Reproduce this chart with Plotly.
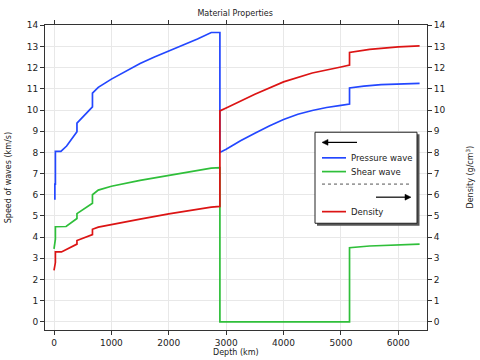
import plotly.graph_objects as go

# ---- data ----
depth_vp = [0, 15, 15, 24, 24, 120, 220, 400, 400, 670, 670, 771, 1000, 1250, 1500, 1750, 2000,
            2250, 2500, 2740, 2891, 2891, 3000, 3250, 3500, 3750, 4000, 4250, 4500, 4750, 5000,
            5150, 5150, 5400, 5700, 6000, 6371]
vp = [5.8, 5.8, 6.5, 6.5, 8.05, 8.05, 8.3, 8.98, 9.38, 10.15, 10.8, 11.07, 11.46, 11.85, 12.2, 12.5, 12.77,
      13.07, 13.35, 13.66, 13.66, 8.0, 8.15, 8.55, 8.9, 9.25, 9.55, 9.8, 9.98, 10.12, 10.22,
      10.28, 11.04, 11.13, 11.2, 11.24, 11.26]

depth_vs = [0, 20, 24, 24, 80, 210, 400, 400, 670, 670, 771, 1000, 1500, 2000, 2500, 2740, 2891,
            2891, 5150, 5150, 5500, 6000, 6371]
vs = [3.44, 3.87, 3.9, 4.49, 4.5, 4.5, 4.88, 5.11, 5.6, 6.0, 6.22, 6.4, 6.68, 6.92, 7.15, 7.26, 7.28,
      0.0, 0.0, 3.5, 3.58, 3.64, 3.67]

depth_rho = [0, 15, 24, 24, 130, 400, 400, 670, 670, 771, 1000, 1500, 2000, 2500, 2740, 2891,
             2891, 3000, 3500, 4000, 4500, 5000, 5150, 5150, 5500, 6000, 6371]
rho = [2.43, 2.6, 2.8, 3.3, 3.3, 3.67, 3.84, 4.12, 4.37, 4.47, 4.58, 4.85, 5.1, 5.32, 5.42, 5.45,
       9.96, 10.1, 10.75, 11.33, 11.75, 12.03, 12.12, 12.72, 12.86, 12.98, 13.03]

x_ticks = [0, 1000, 2000, 3000, 4000, 5000, 6000]
y_ticks = list(range(0, 15))

BLUE = "#2347ff"
GREEN = "#2fbf3a"
RED = "#dc1414"
FONT = "DejaVu Sans"

fig = go.Figure()
fig.add_trace(go.Scatter(x=depth_vp, y=vp, mode="lines", line=dict(color=BLUE, width=1.7),
                         name="Pressure wave", showlegend=False))
fig.add_trace(go.Scatter(x=depth_vs, y=vs, mode="lines", line=dict(color=GREEN, width=1.7),
                         name="Shear wave", showlegend=False))
fig.add_trace(go.Scatter(x=depth_rho, y=rho, mode="lines", line=dict(color=RED, width=1.7),
                         name="Density", showlegend=False, yaxis="y2"))

yr = [-0.385, 14.015]
fig.update_layout(
    width=480, height=360,
    margin=dict(l=45, r=53, t=25, b=25),
    paper_bgcolor="white", plot_bgcolor="white",
    font=dict(family=FONT, size=9, color="#222"),
    title=dict(text="Material Properties", x=0.49, xanchor="center", y=0.962, yanchor="middle",
               font=dict(size=8, color="#222")),
    xaxis=dict(range=[-157, 6500], tickvals=x_ticks, showgrid=True, gridcolor="#e8e8e8",
               gridwidth=1, zeroline=False, showline=True, linecolor="#333", linewidth=1,
               mirror="ticks", ticks="outside", ticklen=4, tickcolor="#333",
               tickfont=dict(size=9)),
    yaxis=dict(range=yr, tickvals=y_ticks, showgrid=True, gridcolor="#e8e8e8", gridwidth=1,
               zeroline=False, showline=True, linecolor="#333", linewidth=1,
               ticks="outside", ticklen=4, tickcolor="#333", tickfont=dict(size=9)),
    yaxis2=dict(range=yr, tickvals=y_ticks, overlaying="y", side="right", showgrid=False,
                zeroline=False, showline=True, linecolor="#333", linewidth=1,
                ticks="outside", ticklen=4, tickcolor="#333", tickfont=dict(size=9)),
)

# axis titles as annotations
fig.add_annotation(text="Depth (km)", xref="paper", yref="paper", x=0.5, y=-0.054,
                   xanchor="center", yanchor="top", showarrow=False, font=dict(size=8))
fig.add_annotation(text="Speed of waves (km/s)", xref="paper", yref="paper", x=-0.095, y=0.5,
                   textangle=-90, xanchor="center", yanchor="middle", showarrow=False,
                   font=dict(size=8))
fig.add_annotation(text="Density (g/cm<sup>3</sup>)", xref="paper", yref="paper", x=1.11, y=0.5,
                   textangle=-90, xanchor="center", yanchor="middle", showarrow=False,
                   font=dict(size=8))

# ---- manual legend box ----
W, H, L, T = 382.0, 310.0, 45.0, 25.0
def px(x):
    return (x - L) / W
def py(y):
    return (T + H - y) / H

fig.add_shape(type="rect", xref="paper", yref="paper", x0=px(317), x1=px(419.5), y0=py(229), y1=py(136),
              fillcolor="#555", line=dict(width=0))
fig.add_shape(type="rect", xref="paper", yref="paper", x0=px(315), x1=px(417), y0=py(226.5), y1=py(134),
              fillcolor="white", line=dict(color="#222", width=1))

def arrow(x_tail, x_head, y):
    d = 1 if x_head > x_tail else -1
    fig.add_shape(type="line", xref="paper", yref="paper", x0=px(x_tail), x1=px(x_head - d * 5),
                  y0=py(y), y1=py(y), line=dict(color="black", width=1.2))
    path = "M {},{} L {},{} L {},{} Z".format(px(x_head), py(y), px(x_head - d * 6), py(y - 3),
                                              px(x_head - d * 6), py(y + 3))
    fig.add_shape(type="path", xref="paper", yref="paper", path=path, fillcolor="black",
                  line=dict(color="black", width=0.5))

arrow(357, 322, 144.3)
arrow(376, 411, 200)

# dotted separator
fig.add_shape(type="line", xref="paper", yref="paper", x0=px(322), x1=px(411), y0=py(186.7), y1=py(186.7),
              line=dict(color="#555", width=1, dash="dot"))
for label, color, yy in [("Pressure wave", BLUE, 160), ("Shear wave", GREEN, 174), ("Density", RED, 214.7)]:
    fig.add_shape(type="line", xref="paper", yref="paper", x0=px(322), x1=px(346), y0=py(yy), y1=py(yy),
                  line=dict(color=color, width=1.7))
    fig.add_annotation(text=label, xref="paper", yref="paper", x=px(349), y=py(yy), xanchor="left",
                       yanchor="middle", showarrow=False, font=dict(size=8.5, color="#222"))

fig.write_html("out.html", config={"displayModeBar": False},
               post_script="document.body.style.margin='0';")
